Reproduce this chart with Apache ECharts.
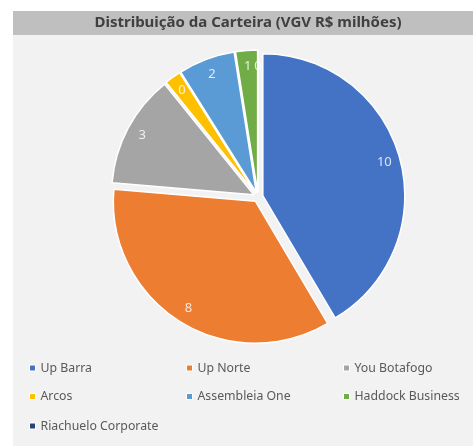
<!DOCTYPE html>
<html>
<head>
<meta charset="utf-8">
<script src="https://cdn.jsdelivr.net/npm/echarts@6/dist/echarts.min.js"></script>
<style>
  html, body { margin: 0; padding: 0; background: #fff; }
  #chart { width: 473px; height: 446px; }
</style>
</head>
<body>
<div id="chart"></div>
<script>
// carteira (VGV R$ milhões)
var names = ["Up Barra", "Up Norte", "You Botafogo", "Arcos", "Assembleia One", "Haddock Business", "Riachuelo Corporate"];
var values = [10.0, 8.4, 3.1, 0.45, 1.55, 0.6, 0];
var colors = ["#4472c4", "#ed7d31", "#a5a5a5", "#ffc000", "#5b9bd5", "#70ad47", "#264478"];

var legendCols = [29, 186, 343];
var legendRows = [361, 389.5, 419];

var font = "'Noto Sans', 'Open Sans', sans-serif";

var pieData = names.map(function (n, i) {
  return { name: n, value: values[i], selected: true, itemStyle: { color: colors[i] } };
});
var labelData = names.map(function (n, i) {
  return { name: n, value: values[i], selected: true };
});

var legends = names.map(function (n, i) {
  return {
    data: [{ name: n, itemStyle: { color: colors[i], borderColor: "#fff", borderWidth: 1 } }],
    left: legendCols[i % 3],
    top: legendRows[Math.floor(i / 3)],
    padding: 0,
    icon: "rect",
    itemWidth: 6,
    itemHeight: 6,
    selectedMode: false,
    textStyle: { fontFamily: font, fontSize: 12.3, color: "#595959", lineHeight: 14 }
  };
});

var chart = echarts.init(document.getElementById("chart"));
chart.setOption({
  backgroundColor: "#fff",
  animation: false,
  graphic: [
    { type: "rect", shape: { x: 13, y: 11, width: 460, height: 435 }, style: { fill: "#f2f2f2" }, z: -10 },
    { type: "rect", shape: { x: 13, y: 11, width: 460, height: 24 }, style: { fill: "#bfbfbf" }, z: -9 }
  ],
  title: {
    text: "Distribuição da Carteira (VGV R$ milhões)",
    left: 248,
    textAlign: "center",
    top: 13,
    padding: 0,
    textStyle: { fontFamily: font, fontSize: 15, fontWeight: "bold", color: "#404040", lineHeight: 20 }
  },
  legend: legends,
  series: [
    {
      type: "pie",
      center: [258, 197],
      radius: [0, 142],
      startAngle: 90,
      selectedMode: "multiple",
      selectedOffset: 5,
      avoidLabelOverlap: false,
      silent: true,
      label: { show: false },
      labelLine: { show: false },
      itemStyle: { borderColor: "#fff", borderWidth: 1.5 },
      select: { itemStyle: { borderColor: "#fff", borderWidth: 1.5 } },
      emphasis: { disabled: true },
      data: pieData
    },
    {
      type: "pie",
      center: [258, 197],
      radius: [104, 142],
      startAngle: 90,
      selectedMode: "multiple",
      selectedOffset: 5,
      avoidLabelOverlap: false,
      silent: true,
      itemStyle: { color: "rgba(0,0,0,0)", borderWidth: 0 },
      select: { itemStyle: { color: "rgba(0,0,0,0)", borderWidth: 0 } },
      emphasis: { disabled: true },
      label: {
        show: true,
        position: "inside",
        fontFamily: font,
        fontSize: 13,
        color: "rgba(255,255,255,0.82)",
        formatter: function (p) { return Math.round(p.value); }
      },
      labelLine: { show: false },
      data: labelData
    }
  ]
});
</script>
</body>
</html>
